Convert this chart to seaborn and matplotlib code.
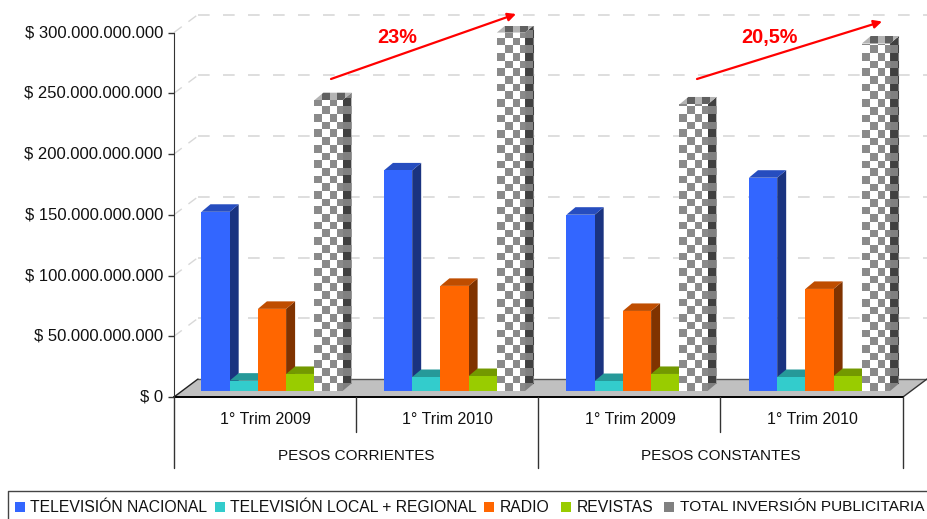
import numpy as np
import pandas as pd
import seaborn as sns
import matplotlib.pyplot as plt
from matplotlib.colors import ListedColormap
from matplotlib.patches import Polygon, Rectangle
from matplotlib.ticker import FuncFormatter
from matplotlib.transforms import ScaledTranslation

# values, pesos
periodos = ['1° Trim 2009', '1° Trim 2010', '1° Trim 2009 ', '1° Trim 2010 ']
grupos = ['PESOS CORRIENTES', 'PESOS CONSTANTES']
medios = ['TELEVISIÓN NACIONAL', 'TELEVISIÓN LOCAL + REGIONAL', 'RADIO', 'REVISTAS',
          'TOTAL INVERSIÓN PUBLICITARIA']
tv_nacional = [147.3e9, 181.3e9, 144.9e9, 175.3e9]
tv_local = [8.5e9, 11.5e9, 8.2e9, 11.5e9]
radio = [67.5e9, 86.4e9, 65.8e9, 83.9e9]
revistas = [14.0e9, 12.3e9, 14.0e9, 12.3e9]
total = [239.0e9, 294.6e9, 235.5e9, 285.6e9]
y_ticks = [0, 50e9, 100e9, 150e9, 200e9, 250e9, 300e9]

colores = ['#3366FF', '#33CCCC', '#FF6600', '#99CC00', '#808080']
lado = ['#1A3380', '#269999', '#803300', '#739900', '#404040']
techo = ['#264DBF', '#269999', '#BF4D00', '#739900', '#606060']

sns.set_style('white')
plt.rcParams['font.family'] = ['Liberation Sans', 'DejaVu Sans']

W, H = 927, 519
fig = plt.figure(figsize=(W / 100, H / 100), dpi=100, facecolor='white')


def px_axes(left, top, right, bottom, **kw):
    return fig.add_axes([left / W, 1 - bottom / H, (right - left) / W, (bottom - top) / H], **kw)


# frame: everything that is not a bar, in pixel coordinates
frame = px_axes(0, 0, W, H)
frame.set_xlim(0, W)
frame.set_ylim(H, 0)
frame.axis('off')

# floor and back grid
frame.add_patch(Polygon([(174, 397), (198, 379), (927, 379), (903, 397)], closed=True,
                        facecolor='#C0C0C0', edgecolor='none', zorder=1))
frame.plot([198, 927], [379, 379], color='#555555', lw=1, zorder=2)
frame.plot([903, 927], [397, 379], color='#333333', lw=1, zorder=2)
frame.plot([174, 198], [397, 379], color='#222222', lw=1, zorder=2)
for k in range(1, 7):
    y_back = 379 - k * 60.75
    frame.plot([198, 927], [y_back, y_back], color='#D8D8D8', lw=1.2, dashes=(7, 8), zorder=1)
    frame.plot([174, 198], [y_back + 18, y_back], color='#D8D8D8', lw=1.0, dashes=(7, 6), zorder=1)

# multi level category axis
frame.plot([174, 903], [397, 397], color='black', lw=1.4, zorder=3)
for x, y_end in [(174, 468), (356, 432), (538, 468), (720, 432), (903, 468)]:
    frame.plot([x, x], [397, y_end], color='#333333', lw=1, zorder=3)
for x, p in zip([265, 447, 630, 812], periodos):
    frame.text(x, 419, p.strip(), ha='center', va='center', fontsize=11.5, color='#111111')
for x, g in zip([356, 721], grupos):
    frame.text(x, 456, g, ha='center', va='center', fontsize=11.0, color='#111111')

# value axis
ax_val = px_axes(174, 32.7, 903, 397)
ax_val.patch.set_alpha(0)
ax_val.set_ylim(0, 300e9)
ax_val.set_xticks([])
ax_val.set_yticks(y_ticks)
ax_val.yaxis.set_major_formatter(FuncFormatter(lambda v, _: '$ ' + f'{int(v):,}'.replace(',', '.')))
ax_val.tick_params(axis='y', left=True, length=4, width=1, color='#333333', pad=4,
                   labelsize=11.95, labelcolor='#111111')
for s in ['top', 'right', 'bottom']:
    ax_val.spines[s].set_visible(False)
ax_val.spines['left'].set_color('#333333')
subir = ScaledTranslation(0, 1.5 / 100, fig.dpi_scale_trans)
for lab in ax_val.get_yticklabels():
    lab.set_transform(lab.get_transform() + subir)

# bars
df = pd.DataFrame({
    'periodo': periodos * 5,
    'medio': np.repeat(medios, 4),
    'valor': tv_nacional + tv_local + radio + revistas + total,
})
ax = px_axes(180.75, 26, 910.75, 391)
ax.patch.set_alpha(0)
sns.barplot(data=df, x='periodo', y='valor', hue='medio', order=periodos, hue_order=medios,
            palette=colores, saturation=1, width=0.773, gap=0, dodge=True, legend=False,
            estimator='sum', errorbar=None, ax=ax, zorder=6, linewidth=0, edgecolor='none')
ax.set_xlim(-0.5, 3.5)
ax.set_ylim(0, 300e9)
ax.axis('off')

ux = 4 / 730    # data units per pixel
uy = 300e9 / 364.5
dx, dy = 9 * ux, 7.5 * uy
celda = 7.67


def ajedrez(poligono, c1, c2, zorder):
    # checker texture clipped to the given patch
    verts = poligono.get_xy()
    x0, x1 = verts[:, 0].min(), verts[:, 0].max()
    y0, y1 = verts[:, 1].min(), verts[:, 1].max()
    nx = int((x1 - x0) / (celda * ux)) + 2
    ny = int((y1 - y0) / (celda * uy)) + 2
    tablero = np.indices((ny, nx)).sum(axis=0) % 2
    im = ax.imshow(tablero, extent=(x0, x0 + nx * celda * ux, y0, y0 + ny * celda * uy),
                   origin='lower', aspect='auto', interpolation='nearest',
                   cmap=ListedColormap([c1, c2]), zorder=zorder)
    im.set_clip_path(poligono)


for i, cont in enumerate(ax.containers):
    for bar in cont:
        x, w, h = bar.get_x(), bar.get_width(), bar.get_height()
        cara = Polygon([(x + w, 0), (x + w + dx, dy), (x + w + dx, h + dy), (x + w, h)], closed=True)
        arriba = Polygon([(x, h), (x + dx, h + dy), (x + w + dx, h + dy), (x + w, h)], closed=True)
        for pol, col in [(cara, lado[i]), (arriba, techo[i])]:
            pol.set_clip_on(False)
            pol.set_facecolor('none' if i == 4 else col)
            pol.set_edgecolor('none')
            pol.set_zorder(3 + i * 0.1)
            ax.add_patch(pol)
        if i == 4:
            ajedrez(cara, '#808080', '#404040', 3.5)
            ajedrez(arriba, '#B4B4B4', '#606060', 3.5)
            frente = Polygon([(x, 0), (x, h), (x + w, h), (x + w, 0)], closed=True,
                             facecolor='none', edgecolor='none')
            ax.add_patch(frente)
            ajedrez(frente, 'white', '#8A8A8A', 7)
ax.set_xlim(-0.5, 3.5)
ax.set_ylim(0, 300e9)

# growth arrows, on top of the bars
top = px_axes(0, 0, W, H)
top.patch.set_alpha(0)
top.set_xlim(0, W)
top.set_ylim(H, 0)
top.axis('off')
for (x0, y0, x1, y1), txt, xt in [((331, 79, 516, 14), '23%', 397), ((697, 79, 882, 21.5), '20,5%', 769)]:
    top.annotate('', xy=(x1, y1), xytext=(x0, y0),
                 arrowprops=dict(arrowstyle='-|>', color='#FF0000', lw=1.6, mutation_scale=12,
                                 shrinkA=0, shrinkB=0))
    top.text(xt, 37.5, txt, ha='center', va='center', color='#FF0000', fontsize=14.3, fontweight='bold')

# legend strip, runs off the right edge like the source
top.plot([929, 8, 8], [491, 491, 520], color='#444444', lw=1, clip_on=False)
tam_legend = [11.3, 11.3, 11.3, 11.3, 11.1]
for x_sw, x_txt, m, c, t in zip([15, 215, 484, 561, 664], [30, 230, 500, 577, 680], medios, colores, tam_legend):
    top.add_patch(Rectangle((x_sw, 502), 10, 10, facecolor=c, edgecolor='none'))
    top.text(x_txt, 507, m, ha='left', va='center', fontsize=t, color='#111111')

fig.savefig('out.png', dpi=100)
